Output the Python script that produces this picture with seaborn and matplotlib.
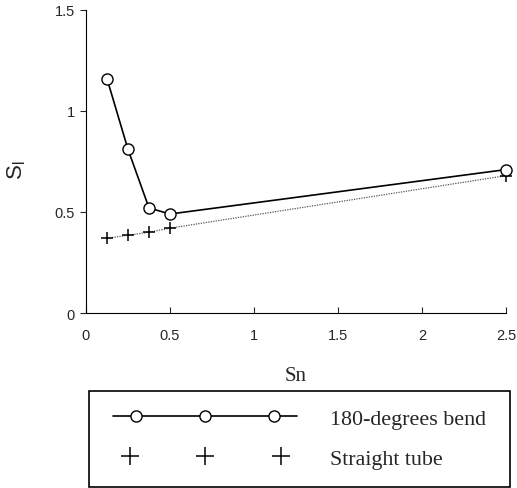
import numpy as np
import pandas as pd
import seaborn as sns
import matplotlib.pyplot as plt
from matplotlib.collections import PathCollection
from matplotlib.legend_handler import HandlerPathCollection

# values
sn = [0.125, 0.25, 0.375, 0.5, 2.5]
bend_sl = [1.16, 0.81, 0.52, 0.49, 0.71]
straight_sl = [0.37, 0.385, 0.40, 0.42, 0.68]
x_ticks = [0, 0.5, 1, 1.5, 2, 2.5]
x_tick_labels = ['0', '0.5', '1', '1.5', '2', '2.5']
y_ticks = [0, 0.5, 1, 1.5]
y_tick_labels = ['0', '0.5', '1', '1.5']

df = pd.DataFrame({'Sn': sn, 'bend': bend_sl, 'straight': straight_sl})

sns.set_style('white')
plt.rcParams['font.family'] = ['Liberation Sans', 'DejaVu Sans']

fig = plt.figure(figsize=(5.17, 4.89), dpi=100)
ax = fig.add_axes([86 / 517, 1 - 314 / 489, 420 / 517, 303 / 489])

# straight tube: dotted line + plus markers
sns.lineplot(data=df, x='Sn', y='straight', ax=ax, color='#555555',
             linestyle=(0, (1, 1)), linewidth=0.9, legend=False)
sns.scatterplot(data=df, x='Sn', y='straight', ax=ax, marker='+', color='black',
                s=70, linewidth=1.1, label='Straight tube', zorder=3, clip_on=False)
# 180-degree bend: solid line with open circles
sns.lineplot(data=df, x='Sn', y='bend', ax=ax, color='black', linewidth=1.2,
             marker='o', markersize=8, markerfacecolor='white',
             markeredgecolor='black', markeredgewidth=1.0,
             label='180-degrees bend', zorder=4, clip_on=False)

ax.set_xlim(0, 2.5)
ax.set_ylim(0, 1.5)
ax.set_xticks(x_ticks)
ax.set_xticklabels(x_tick_labels)
ax.set_yticks(y_ticks)
ax.set_yticklabels(y_tick_labels)
ax.tick_params(axis='x', direction='in', length=4, width=0.8, labelsize=10.5, pad=11, bottom=True)
ax.tick_params(axis='y', direction='out', length=4, width=0.8, labelsize=10.5, pad=4, left=True)
for side in ['top', 'right']:
    ax.spines[side].set_visible(False)
for side in ['left', 'bottom']:
    ax.spines[side].set_color('black')
    ax.spines[side].set_linewidth(0.8)

ax.set_xlabel('Sn', family=['Liberation Serif'], fontsize=15, labelpad=17)
ax.set_ylabel('$\\mathregular{S_l}$', fontsize=16)
ax.yaxis.set_label_coords(-0.138, 0.475)

handles, labels = ax.get_legend_handles_labels()
order = [labels.index('180-degrees bend'), labels.index('Straight tube')]
ax.legend_.remove()
leg = fig.legend([handles[i] for i in order], [labels[i] for i in order],
                 loc='upper left', bbox_to_anchor=(89 / 517, 1 - 488 / 489, 421 / 517, 96 / 489),
                 mode='expand', borderaxespad=0, numpoints=9, scatterpoints=3,
                 scatteryoffsets=[0.5], handlelength=9.0, handletextpad=1.2,
                 borderpad=0.8, labelspacing=0.9,
                 handler_map={PathCollection: HandlerPathCollection(marker_pad=1.05)},
                 fancybox=False, framealpha=1, edgecolor='black',
                 prop={'family': 'Liberation Serif', 'size': 15.8})
leg.get_frame().set_linewidth(1.2)
leg.legend_handles[0].set_markevery([1, 4, 7])
leg.legend_handles[1].set_sizes([180])

fig.savefig('out.png', dpi=100)
